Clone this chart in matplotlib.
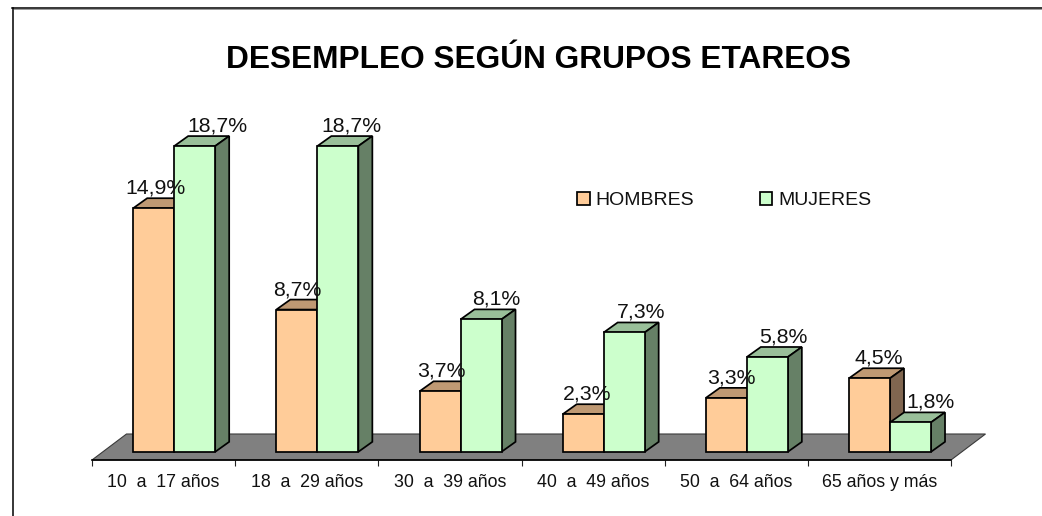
import numpy as np
import matplotlib.pyplot as plt
from matplotlib.lines import Line2D
from matplotlib.patches import Polygon

plt.rcParams['font.family'] = ['Liberation Sans', 'DejaVu Sans']

grupos = ['10  a  17 años', '18  a  29 años', '30  a  39 años',
          '40  a  49 años', '50  a  64 años', '65 años y más']
hombres = [14.9, 8.7, 3.7, 2.3, 3.3, 4.5]
mujeres = [18.7, 18.7, 8.1, 7.3, 5.8, 1.8]

# la posicion horizontal de cada etiqueta esta movida a mano, como en el original (px)
dx_hombres = [2, 0, 1, 4, 5, 9]
dx_mujeres = [23, 14, 15, 17, 16, 20]

W, H = 1042, 516
px_x = 1 / 143.17   # unidades de categoria por pixel
px_y = 1 / 16.35    # puntos porcentuales por pixel
lw = 1.25

fig = plt.figure(figsize=(W / 100, H / 100), dpi=100)
ax = fig.add_axes([92 / W, 56 / H, 859 / W, 359.7 / H])
ax.set_xlim(0, 6)
ax.set_ylim(-0.5, 21.5)
ax.patch.set_visible(False)

# marco (solo arriba e izquierda quedan dentro de la imagen)
fig.add_artist(Line2D([12.5 / W, 12.5 / W], [0, 1 - 8 / H], color='black', lw=1.1))
fig.add_artist(Line2D([12 / W, 1], [1 - 8.2 / H, 1 - 8.2 / H], color='black', lw=1.1))
fig.add_artist(Line2D([13.5 / W, 1], [1 - 9.4 / H, 1 - 9.4 / H], color='#999999', lw=0.7))

fig.text(538 / W, 1 - 67.5 / H, 'DESEMPLEO SEGÚN GRUPOS ETAREOS', ha='center', va='baseline',
         fontsize=22.8, fontweight='bold', color='black')

# piso gris
y0 = ax.get_ylim()[0]
fx, fy = 34.5 * px_x, 26 * px_y
ax.add_patch(Polygon([(0, y0), (6, y0), (6 + fx, y0 + fy), (0 + fx, y0 + fy)], closed=True,
                     facecolor='#808080', edgecolor='#3a3a3a', lw=0.8, clip_on=False, zorder=1))

x = np.arange(len(grupos))
ancho = 41 * px_x
centro = x + 0.5 + 10.6 * px_x
dx, dy = 14 * px_x, 10 * px_y


def barras3d(pos, valores, frente, arriba, lado, z, etiqueta, dx_texto):
    ax.bar(pos, valores, ancho, facecolor=frente, edgecolor='black', linewidth=lw,
           zorder=z + 1, label=etiqueta, clip_on=False)
    for p, v, d in zip(pos, valores, dx_texto):
        l, r = p - ancho / 2, p + ancho / 2
        ax.add_patch(Polygon([(l, v), (r, v), (r + dx, v + dy), (l + dx, v + dy)], closed=True,
                             facecolor=arriba, edgecolor='black', lw=lw, clip_on=False, zorder=z))
        ax.add_patch(Polygon([(r, 0), (r + dx, dy), (r + dx, v + dy), (r, v)], closed=True,
                             facecolor=lado, edgecolor='black', lw=lw, clip_on=False, zorder=z))
        ax.annotate(('%.1f%%' % v).replace('.', ','), (p, v), xytext=(d * 0.72, 14.5 * 0.72),
                    textcoords='offset points', ha='center', va='baseline',
                    fontsize=15.3, color='#111111', zorder=10)


barras3d(centro - ancho / 2, hombres, '#FFCC99', '#BF9973', '#806650', 2, 'HOMBRES', dx_hombres)
barras3d(centro + ancho / 2, mujeres, '#CCFFCC', '#99BF99', '#668066', 4, 'MUJERES', dx_mujeres)

# ejes
for s in ['left', 'right', 'top']:
    ax.spines[s].set_visible(False)
ax.spines['bottom'].set_linewidth(1.2)
ax.spines['bottom'].set_zorder(2)
ax.set_yticks([])
ax.set_xticks(np.arange(len(grupos) + 1))
ax.set_xticklabels([])
ax.set_xticks(x + 0.5, grupos, minor=True, fontsize=12.8, color='#111111')
ax.tick_params(axis='x', which='major', length=4.5, width=0.8, color='#222222')
ax.tick_params(axis='x', which='minor', length=0, pad=9.8)

fig.legend(loc='center left', bbox_to_anchor=(577 / W, 1 - 200.5 / H), ncol=2, frameon=False,
           fontsize=14, borderpad=0, borderaxespad=0, handlelength=0.65, handleheight=0.65,
           handletextpad=0.32, columnspacing=3.35, labelcolor='#111111')

plt.savefig('out.png', dpi=100)
